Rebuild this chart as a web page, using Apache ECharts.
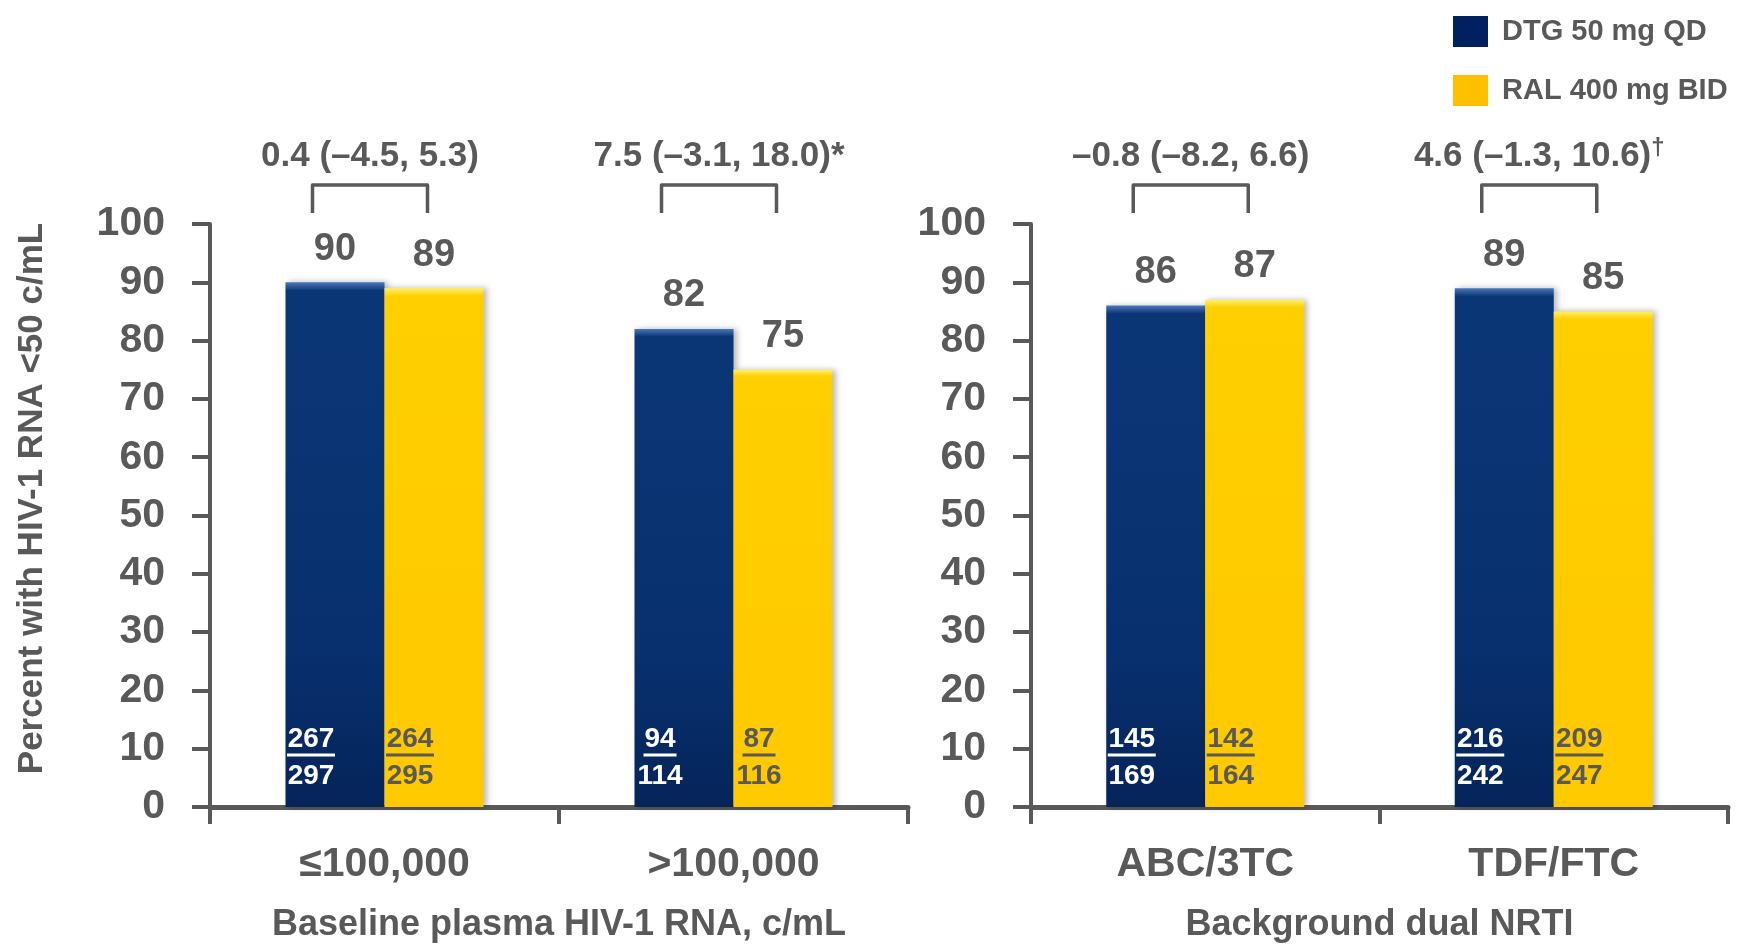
<!DOCTYPE html>
<html>
<head>
<meta charset="utf-8">
<script src="https://cdn.jsdelivr.net/npm/echarts@6/dist/echarts.min.js"></script>
<style>
  html, body { margin: 0; padding: 0; background: #fff; }
  #main { width: 1746px; height: 948px; }
</style>
</head>
<body>
<div id="main"></div>
<script>
// data
var rnaCats = ['≤100,000', '>100,000'];
var nrtiCats = ['ABC/3TC', 'TDF/FTC'];

var dtgRna = [90, 82];
var ralRna = [89, 75];
var dtgNrti = [86, 89];
var ralNrti = [87, 85];

// responders / total, per arm
var dtgRespRna = [267, 94],  dtgTotRna = [297, 114];
var ralRespRna = [264, 87],  ralTotRna = [295, 116];
var dtgRespNrti = [145, 216], dtgTotNrti = [169, 242];
var ralRespNrti = [142, 209], ralTotNrti = [164, 247];

// treatment difference (95% CI) above each group
var diffRna = ['0.4 (–4.5, 5.3)', '7.5 (–3.1, 18.0)*'];
var diffNrti = ['–0.8 (–8.2, 6.6)', '4.6 (–1.3, 10.6){s|†}'];

var yTicks = [0, 100, 10]; // min, max, interval

var FONT = "'Liberation Sans Narrow', 'Arial Narrow', 'Liberation Sans', Arial, sans-serif";
var GREY = '#595959';
var BAR_W = 99;

var dtgColor = new echarts.graphic.LinearGradient(0, 0, 0, 1, [
  { offset: 0, color: '#4a78bd' },
  { offset: 0.016, color: '#0b3676' },
  { offset: 0.7, color: '#08306e' },
  { offset: 1, color: '#05245a' }
]);
var ralColor = new echarts.graphic.LinearGradient(0, 0, 0, 1, [
  { offset: 0, color: '#fff066' },
  { offset: 0.016, color: '#ffcf00' },
  { offset: 1, color: '#ffc900' }
]);

function bracketItem(params, api) {
  var c = api.coord([api.value(0), yTicks[1]]);
  var mid = c[0] - 14.5;
  var x0 = mid - 57.5, x1 = mid + 57.5;
  var yb = c[1] - 11, yt = c[1] - 39;
  var txt = params.seriesIndex === 4 ? diffRna[api.value(0)] : diffNrti[api.value(0)];
  return {
    type: 'group',
    children: [
      {
        type: 'polyline',
        shape: { points: [[x0, yb], [x0, yt], [x1, yt], [x1, yb]] },
        style: { stroke: GREY, lineWidth: 3.5, fill: null, lineJoin: 'round' }
      },
      {
        type: 'text',
        x: mid, y: c[1] - 68,
        style: {
          text: txt,
          align: 'center', verticalAlign: 'middle',
          fontFamily: FONT, fontWeight: 'bold', fontSize: 35, fill: GREY,
          rich: { s: { fontFamily: FONT, fontWeight: 'bold', fontSize: 24, fill: GREY, padding: [0, 0, 16, 0] } }
        }
      }
    ]
  };
}

function fractionItem(params, api) {
  var cat = api.value(0), arm = api.value(1);
  var resp = String(api.value(2)), tot = String(api.value(3));
  var c = api.coord([cat, 0]);
  var left = c[0] - BAR_W + arm * BAR_W;
  var digitW = 15;
  var cx = left + 3 + tot.length * digitW / 2;
  var col = arm === 0 ? '#ffffff' : GREY;
  var uw = resp.length * digitW + 3;
  var ts = { fontFamily: FONT, fontWeight: 'bold', fontSize: 28, fill: col, align: 'center', verticalAlign: 'middle' };
  return {
    type: 'group',
    children: [
      { type: 'text', x: cx, y: c[1] - 68, style: Object.assign({ text: resp }, ts) },
      { type: 'rect', shape: { x: cx - uw / 2, y: c[1] - 53.5, width: uw, height: 3 }, style: { fill: col } },
      { type: 'text', x: cx, y: c[1] - 31, style: Object.assign({ text: tot }, ts) }
    ]
  };
}

function fracData(dR, dT, rR, rT) {
  var out = [];
  for (var i = 0; i < dR.length; i++) {
    out.push([i, 0, dR[i], dT[i]]);
    out.push([i, 1, rR[i], rT[i]]);
  }
  return out;
}

function barSeries(name, data, idx, color) {
  return {
    name: name,
    type: 'bar',
    xAxisIndex: idx, yAxisIndex: idx,
    data: data,
    barWidth: BAR_W,
    barGap: '0%',
    itemStyle: {
      color: color,
      shadowColor: 'rgba(0,0,0,0.28)', shadowBlur: 6, shadowOffsetX: 3, shadowOffsetY: 0
    },
    label: {
      show: true, position: 'top', distance: 14,
      fontFamily: FONT, fontWeight: 'bold', fontSize: 38, color: GREY
    }
  };
}

function xAxisFor(idx, cats, name) {
  return {
    type: 'category', gridIndex: idx, data: cats,
    name: name, nameLocation: 'middle', nameGap: 100,
    nameTextStyle: { fontFamily: FONT, fontWeight: 'bold', fontSize: 36, color: GREY },
    axisLine: { lineStyle: { color: GREY, width: 5 } },
    axisTick: { show: true, length: 17, lineStyle: { color: GREY, width: 4 } },
    axisLabel: { margin: 37, fontFamily: FONT, fontWeight: 'bold', fontSize: 41, color: GREY }
  };
}

function yAxisFor(idx, name) {
  return {
    type: 'value', gridIndex: idx,
    min: yTicks[0], max: yTicks[1], interval: yTicks[2],
    name: name, nameLocation: 'middle', nameGap: 160,
    nameTextStyle: { fontFamily: FONT, fontWeight: 'bold', fontSize: 35, color: GREY, padding: [0, 0, 0, 34] },
    splitLine: { show: false },
    axisLine: { show: true, lineStyle: { color: GREY, width: 4 } },
    axisTick: { show: true, length: 18, lineStyle: { color: GREY, width: 4 } },
    axisLabel: { margin: 45, fontFamily: FONT, fontWeight: 'bold', fontSize: 41, color: GREY }
  };
}

var myChart = echarts.init(document.getElementById('main'));
var option = {
  animation: false,
  backgroundColor: '#fff',
  legend: {
    orient: 'vertical', left: 1448, top: 11,
    itemWidth: 35, itemHeight: 31, itemGap: 28,
    icon: 'rect',
    textStyle: { fontFamily: FONT, fontWeight: 'bold', fontSize: 29, color: GREY, padding: [0, 0, 0, 9] },
    data: [
      { name: 'DTG 50 mg QD', itemStyle: { color: '#002060' } },
      { name: 'RAL 400 mg BID', itemStyle: { color: '#ffc000' } }
    ]
  },
  grid: [
    { left: 210, right: 838, top: 224, bottom: 141 },
    { left: 1031, right: 18, top: 224, bottom: 141 }
  ],
  xAxis: [
    xAxisFor(0, rnaCats, 'Baseline plasma HIV-1 RNA, c/mL'),
    xAxisFor(1, nrtiCats, 'Background dual NRTI')
  ],
  yAxis: [
    yAxisFor(0, 'Percent with HIV-1 RNA <50 c/mL'),
    yAxisFor(1, '')
  ],
  series: [
    barSeries('DTG 50 mg QD', dtgRna, 0, dtgColor),
    barSeries('RAL 400 mg BID', ralRna, 0, ralColor),
    barSeries('DTG 50 mg QD', dtgNrti, 1, dtgColor),
    barSeries('RAL 400 mg BID', ralNrti, 1, ralColor),
    {
      type: 'custom', xAxisIndex: 0, yAxisIndex: 0, z: 5, silent: true,
      renderItem: bracketItem, clip: false,
      data: [[0], [1]]
    },
    {
      type: 'custom', xAxisIndex: 1, yAxisIndex: 1, z: 5, silent: true,
      renderItem: bracketItem, clip: false,
      data: [[0], [1]]
    },
    {
      type: 'custom', xAxisIndex: 0, yAxisIndex: 0, z: 5, silent: true,
      renderItem: fractionItem,
      data: fracData(dtgRespRna, dtgTotRna, ralRespRna, ralTotRna)
    },
    {
      type: 'custom', xAxisIndex: 1, yAxisIndex: 1, z: 5, silent: true,
      renderItem: fractionItem,
      data: fracData(dtgRespNrti, dtgTotNrti, ralRespNrti, ralTotNrti)
    }
  ]
};
myChart.setOption(option, true);
</script>
</body>
</html>
